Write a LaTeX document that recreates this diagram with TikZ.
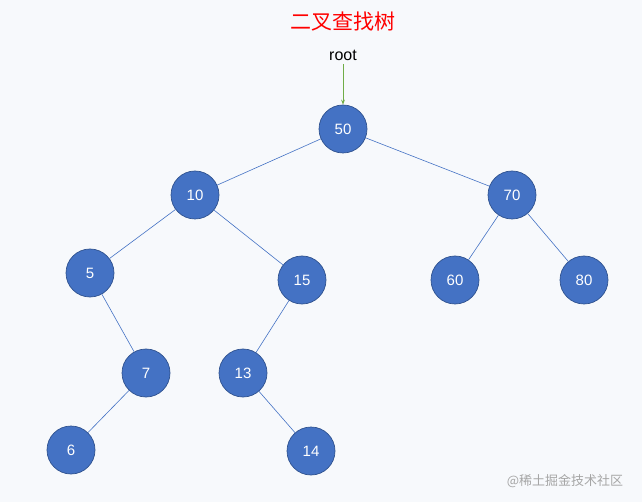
\documentclass[tikz,border=0pt]{standalone}
\usepackage{fontspec}
\usetikzlibrary{arrows.meta}
\setmainfont{Liberation Sans}
\newfontfamily\cjk{Noto Sans CJK SC}
\definecolor{bg}{HTML}{F7F9FC}
\definecolor{nfill}{HTML}{4472C4}
\definecolor{nborder}{HTML}{2F528F}
\definecolor{arr}{HTML}{70AD47}
\begin{document}
\begin{tikzpicture}[x=1pt,y=-1pt,
  tn/.style={circle,fill=nfill,draw=nborder,line width=0.7pt,minimum size=48pt,inner sep=0pt,text=white,font=\fontsize{15}{15}\selectfont},
  ed/.style={draw=nfill,line width=0.6pt}]
\fill[bg] (0,0) rectangle (642,502);
\useasboundingbox (0,0) rectangle (642,502);
\node[text=red,font=\cjk\fontsize{21}{21}\selectfont] (title) at (343,22) {二叉查找树};
\node[font=\fontsize{16}{16}\selectfont] (root) at (343,55) {root};
\node[tn] (n50) at (343,129) {50};
\node[tn] (n10) at (195,195) {10};
\node[tn] (n70) at (512,195) {70};
\node[tn] (n5) at (90,273) {5};
\node[tn] (n15) at (302,280) {15};
\node[tn] (n60) at (455,280) {60};
\node[tn] (n80) at (584,280) {80};
\node[tn] (n7) at (146,373) {7};
\node[tn] (n13) at (243,373) {13};
\node[tn] (n6) at (71,450) {6};
\node[tn] (n14) at (311,451) {14};
\draw[draw=arr,line width=0.7pt,-{Stealth[length=5pt]}] (root.south) -- (n50.north);
\foreach \a/\b in {n50/n10,n50/n70,n10/n5,n10/n15,n70/n60,n70/n80,n5/n7,n15/n13,n7/n6,n13/n14}
  \draw[ed] (\a) -- (\b);
\node[text=gray!70,font=\cjk\fontsize{13}{13}\selectfont] (wm) at (565,481) {@稀土掘金技术社区};
\end{tikzpicture}
\end{document}
